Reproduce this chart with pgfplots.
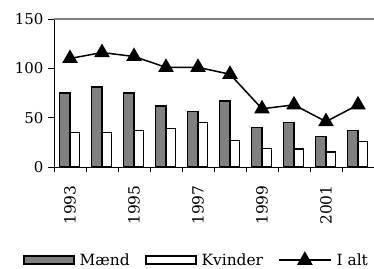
\documentclass[border=0pt]{standalone}
\usepackage{pgfplots}
\pgfplotsset{compat=1.18}
\usepackage{fontspec}
\setmainfont{DejaVu Serif}
\definecolor{barg}{RGB}{128,128,128}
\pgfplotsset{
  boxlegend/.style={legend image code/.code={\draw[#1,line width=1.8bp] (0bp,-4bp) rectangle (50bp,4bp);}},
  linelegend/.style={legend image code/.code={\draw[line width=1.5bp,black] (0bp,0bp) -- (52bp,0bp); \fill[black] (26bp,0bp) ++(90:7.5bp) -- ++(-120:13bp) -- ++(0:13bp) -- cycle;}},
}
\begin{document}
\begin{tikzpicture}
\useasboundingbox (-54bp,-102bp) rectangle (320bp,167bp);
\begin{axis}[
  at={(0,0)}, anchor=south west,
  scale only axis, width=320bp, height=148bp,
  xmin=-0.5, xmax=9.5, ymin=0, ymax=150,
  axis lines=left, axis line style={-, line width=1bp},
  tick align=outside,
  font=\fontsize{15}{17}\selectfont,
  /pgf/number format/assume math mode=true,
  ytick={0,50,100,150},
  major tick length=6bp,
  minor tick length=5bp,
  xtick={0,2,4,6,8},
  xticklabels={1993,1995,1997,1999,2001},
  minor xtick={-0.5,0.5,...,8.5},
  every major x tick/.append style={draw=none},
  tick style={black, line width=1bp},
  xticklabel style={rotate=90, anchor=east, font=\fontsize{15.5}{17}\selectfont},
  xticklabel shift=9bp,
  yticklabel shift=1bp,
  legend style={at={(axis description cs:0.445,-0.63)}, anchor=center, draw=none,
    legend columns=-1, font=\fontsize{15.5}{17}\selectfont,
    /tikz/every even column/.append style={column sep=13bp},
    /tikz/every odd column/.append style={column sep=3bp},
    inner xsep=0pt, inner ysep=0pt},
  legend cell align=left,
  clip=false,
]
\draw[gray, line width=1.5bp] (rel axis cs:0,1) -- (rel axis cs:1,1);
\addplot[ybar, bar width=0.33, bar shift=-0.165, fill=barg, draw=black, line width=1.5bp, boxlegend]
  coordinates {(0,75) (1,81) (2,75) (3,62) (4,56) (5,67) (6,40) (7,45) (8,31) (9,37)};
\addlegendentry{Mænd}
\addplot[ybar, bar width=0.29, bar shift=0.145, fill=white, draw=black, line width=1.5bp, boxlegend]
  coordinates {(0,35) (1,35) (2,37) (3,39) (4,45) (5,27) (6,19) (7,18) (8,15) (9,26)};
\addlegendentry{Kvinder}
\addplot[black, line width=1.5bp, mark=triangle*, mark size=7.5bp, mark options={fill=black, solid}, linelegend]
  coordinates {(0,110) (1,116) (2,112) (3,101) (4,101) (5,94) (6,59) (7,63) (8,46) (9,63)};
\addlegendentry{I alt}
\end{axis}
\end{tikzpicture}
\end{document}
